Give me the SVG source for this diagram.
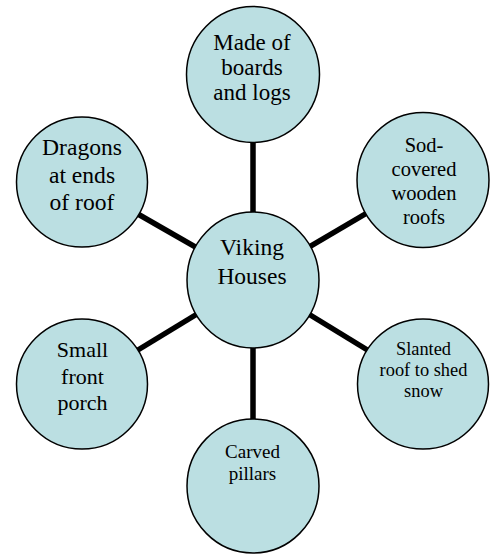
<svg xmlns="http://www.w3.org/2000/svg" width="491" height="554" viewBox="0 0 491 554">
<style>
.c{fill:#BBDFE2;stroke:#000;stroke-width:1.5}
.t{font-family:'Liberation Serif','Times New Roman',Times,serif;fill:#000;text-anchor:middle}
#connectors line{stroke:#000;stroke-width:5.5}
</style>
<rect width="491" height="554" fill="#fff"/>
<g id="connectors">
<line x1="253" y1="280" x2="253" y2="74"/>
<line x1="253" y1="280" x2="423" y2="180"/>
<line x1="253" y1="280" x2="423" y2="384"/>
<line x1="253" y1="280" x2="253" y2="486"/>
<line x1="253" y1="280" x2="82" y2="384"/>
<line x1="253" y1="280" x2="82" y2="182"/>
</g>
<g id="node-top">
<ellipse class="c" cx="253" cy="74.5" rx="66.5" ry="68"/>
<text class="t" font-family="Liberation Serif, serif" font-size="23"><tspan x="252" y="50">Made of</tspan><tspan x="252" y="74.5">boards</tspan><tspan x="252" y="99.5">and logs</tspan></text>
</g>
<g id="node-top-right">
<ellipse class="c" cx="423" cy="180" rx="66" ry="67.5"/>
<text class="t" font-family="Liberation Serif, serif" font-size="20.5"><tspan x="424" y="151.5">Sod-</tspan><tspan x="424" y="175.5">covered</tspan><tspan x="424" y="199.5">wooden</tspan><tspan x="424" y="223.5">roofs</tspan></text>
</g>
<g id="node-bottom-right">
<ellipse class="c" cx="423" cy="384" rx="65.5" ry="65"/>
<text class="t" font-family="Liberation Serif, serif" font-size="18.4"><tspan x="423.5" y="355">Slanted</tspan><tspan x="423.5" y="376">roof to shed</tspan><tspan x="423.5" y="397">snow</tspan></text>
</g>
<g id="node-bottom">
<ellipse class="c" cx="253" cy="486" rx="66" ry="67"/>
<text class="t" font-family="Liberation Serif, serif" font-size="19"><tspan x="252.5" y="458">Carved</tspan><tspan x="252.5" y="480">pillars</tspan></text>
</g>
<g id="node-bottom-left">
<ellipse class="c" cx="82" cy="384" rx="65.5" ry="65"/>
<text class="t" font-family="Liberation Serif, serif" font-size="22"><tspan x="82.5" y="357">Small</tspan><tspan x="82.5" y="383.5">front</tspan><tspan x="82.5" y="410">porch</tspan></text>
</g>
<g id="node-top-left">
<ellipse class="c" cx="82" cy="182" rx="65.5" ry="65"/>
<text class="t" font-family="Liberation Serif, serif" font-size="23.6"><tspan x="82" y="155">Dragons</tspan><tspan x="82" y="182.5">at ends</tspan><tspan x="82" y="210">of roof</tspan></text>
</g>
<g id="node-center">
<ellipse class="c" cx="253" cy="280" rx="66" ry="68"/>
<text class="t" font-family="Liberation Serif, serif" font-size="23.5"><tspan x="252" y="255">Viking</tspan><tspan x="252" y="284">Houses</tspan></text>
</g>
</svg>
